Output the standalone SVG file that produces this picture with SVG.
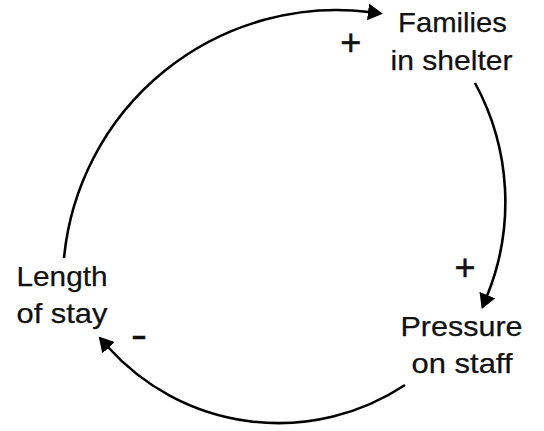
<svg xmlns="http://www.w3.org/2000/svg" width="544" height="431" viewBox="0 0 544 431">
<style>
.lbl{font-family:"Liberation Sans",Arial,sans-serif;font-size:28px;fill:#111;stroke:#111;stroke-width:0.25;text-anchor:middle}
.sign{font-family:"Liberation Sans",Arial,sans-serif;font-size:36px;fill:#111;stroke:#111;stroke-width:0.5;text-anchor:middle}
.link{fill:none;stroke:#000;stroke-width:2.6;marker-end:url(#ah)}
</style>
<defs>
<marker id="ah" markerUnits="userSpaceOnUse" markerWidth="15" markerHeight="17" viewBox="0 0 15 17" refX="1" refY="8.5" orient="auto">
<path d="M0,0 L15,8.5 L0,17 Z" fill="#000"/>
</marker>
</defs>
<rect width="544" height="431" fill="#fff"/>
<g id="connectors">
<path class="link" d="M64,258 A274,274 0 0,1 369,12"/>
<path class="link" d="M475,83 A249,249 0 0,1 487,296"/>
<path class="link" d="M405,385 A229,229 0 0,1 108,347"/>
</g>
<g id="node-families">
<text class="lbl" x="452.5" y="32" textLength="109" lengthAdjust="spacingAndGlyphs">Families</text>
<text class="lbl" x="451.5" y="70" textLength="122" lengthAdjust="spacingAndGlyphs">in shelter</text>
</g>
<g id="node-pressure">
<text class="lbl" x="461.5" y="335.5" textLength="122" lengthAdjust="spacingAndGlyphs">Pressure</text>
<text class="lbl" x="462" y="373" textLength="101" lengthAdjust="spacingAndGlyphs">on staff</text>
</g>
<g id="node-length">
<text class="lbl" x="62" y="286" textLength="91" lengthAdjust="spacingAndGlyphs">Length</text>
<text class="lbl" x="62" y="322.5" textLength="91" lengthAdjust="spacingAndGlyphs">of stay</text>
</g>
<g id="signs">
<text class="sign" x="350.7" y="55.2">+</text>
<text class="sign" x="465" y="280.2">+</text>
<text class="sign" x="139" y="346.5" textLength="16" lengthAdjust="spacingAndGlyphs">-</text>
</g>
</svg>
